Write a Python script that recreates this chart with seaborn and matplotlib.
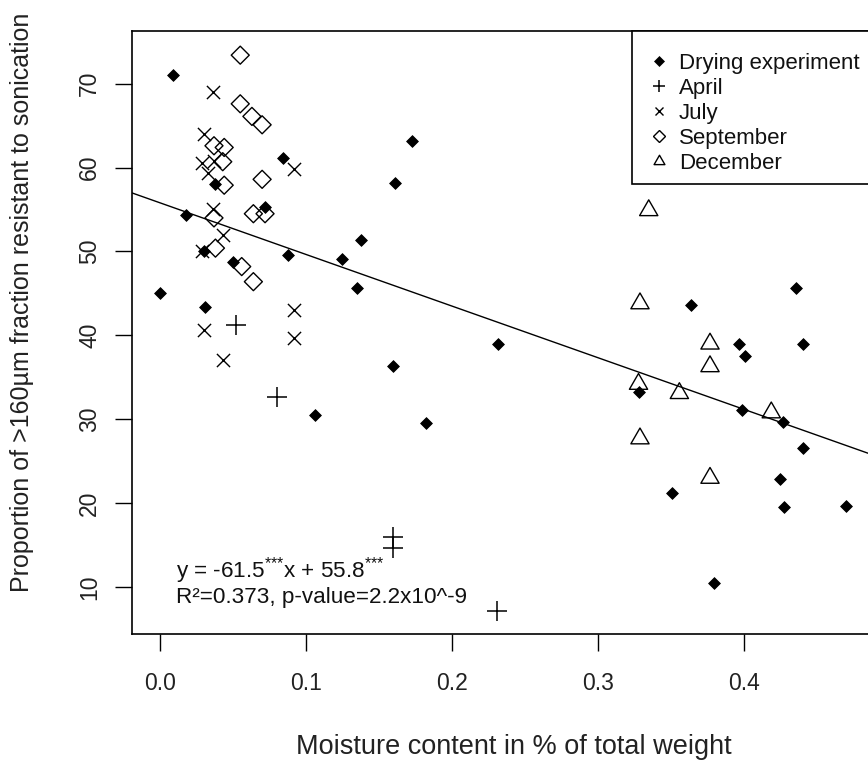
import numpy as np
import pandas as pd
import matplotlib
matplotlib.use("Agg")
import matplotlib.pyplot as plt
from matplotlib.lines import Line2D
from matplotlib.path import Path
from matplotlib.patches import Rectangle
import seaborn as sns

# ---------------- data ----------------
drying_x = [0.009, 0.000, 0.018, 0.084, 0.038, 0.072, 0.030, 0.050, 0.088, 0.125,
            0.031, 0.106, 0.173, 0.161, 0.138, 0.135, 0.232, 0.160, 0.182,
            0.436, 0.364, 0.397, 0.401, 0.441, 0.328, 0.399, 0.427, 0.441,
            0.425, 0.351, 0.428, 0.470, 0.380, 0.440]
drying_y = [71.0, 45.0, 54.4, 61.1, 58.0, 55.3, 50.0, 48.7, 49.6, 49.1,
            43.4, 30.5, 63.2, 58.2, 51.4, 45.7, 39.0, 36.3, 29.5,
            45.7, 43.6, 39.0, 37.5, 39.0, 33.3, 31.1, 29.7, 26.6,
            22.9, 21.2, 19.5, 19.7, 10.5, 63.2]

april_x = [0.052, 0.080, 0.160, 0.160, 0.231]
april_y = [41.2, 32.7, 16.0, 14.7, 7.1]

july_x = [0.036, 0.030, 0.029, 0.033, 0.037, 0.092, 0.036, 0.043, 0.029, 0.092, 0.092, 0.030, 0.043]
july_y = [69.0, 64.0, 60.5, 59.3, 60.8, 59.8, 55.1, 52.0, 50.0, 43.0, 39.7, 40.6, 37.1]

sept_x = [0.055, 0.055, 0.063, 0.070, 0.037, 0.044, 0.043, 0.044, 0.070, 0.064, 0.072,
          0.037, 0.038, 0.056, 0.064]
sept_y = [73.4, 67.6, 66.1, 65.1, 62.6, 62.4, 60.7, 57.9, 58.6, 54.5, 54.5,
          54.0, 50.4, 48.2, 46.4]

dec_x = [0.335, 0.329, 0.377, 0.377, 0.328, 0.356, 0.419, 0.329, 0.377]
dec_y = [54.9, 43.8, 39.0, 36.3, 34.2, 33.1, 30.8, 27.7, 23.0]

slope = -61.5
intercept = 55.8

legend_labels = ["Drying experiment", "April", "July", "September", "December"]
x_ticks = [0.0, 0.1, 0.2, 0.3, 0.4]
y_ticks = [10, 20, 30, 40, 50, 60, 70]

# ---------------- style ----------------
sns.set_style("white")
plt.rcParams["font.family"] = ["Liberation Sans", "DejaVu Sans"]
plt.rcParams["mathtext.fontset"] = "custom"
plt.rcParams["mathtext.rm"] = "Liberation Sans"
plt.rcParams["mathtext.it"] = "Liberation Sans"

W, H = 868, 765
fig = plt.figure(figsize=(W / 100, H / 100), dpi=100)
ax_left, ax_right, ax_top, ax_bottom = 131.7, 868, 31, 634.3
ax = fig.add_axes([ax_left / W, 1 - ax_bottom / H, (ax_right - ax_left) / W, (ax_bottom - ax_top) / H])

df_d = pd.DataFrame({"x": drying_x, "y": drying_y})
df_a = pd.DataFrame({"x": april_x, "y": april_y})
df_j = pd.DataFrame({"x": july_x, "y": july_y})
df_s = pd.DataFrame({"x": sept_x, "y": sept_y})
df_c = pd.DataFrame({"x": dec_x, "y": dec_y})

tri = Path([(-1, -0.577), (1, -0.577), (0, 1.155), (-1, -0.577)],
           [Path.MOVETO, Path.LINETO, Path.LINETO, Path.CLOSEPOLY])

sns.scatterplot(data=df_s, x="x", y="y", marker="D", s=84, color="black", linewidth=1.0, ax=ax, zorder=3)
ax.collections[-1].set_facecolor("none")
ax.collections[-1].set_edgecolor("black")
sns.scatterplot(data=df_c, x="x", y="y", marker=tri, s=230, color="black", linewidth=1.0, ax=ax, zorder=3)
ax.collections[-1].set_facecolor("none")
ax.collections[-1].set_edgecolor("black")
sns.scatterplot(data=df_j, x="x", y="y", marker="x", s=90, color="black", linewidth=1.0, ax=ax, zorder=3)
sns.scatterplot(data=df_a, x="x", y="y", marker="+", s=210, color="black", linewidth=1.1, ax=ax, zorder=3)
sns.scatterplot(data=df_d, x="x", y="y", marker="D", s=36, color="black", edgecolor="black",
                linewidth=0.6, ax=ax, zorder=4)

xlim = (-0.0194, 0.4853)
ylim = (4.37, 76.28)
xx = np.array(xlim)
ax.plot(xx, slope * xx + intercept, color="black", lw=1.0, zorder=2)
ax.set_xlim(*xlim)
ax.set_ylim(*ylim)

ax.set_xticks(x_ticks)
ax.set_xticklabels([f"{t:.1f}" for t in x_ticks])
ax.set_yticks(y_ticks)
ax.set_yticklabels([str(t) for t in y_ticks], rotation=90, va="center")
ax.tick_params(axis="both", direction="out", length=12, width=1, color="black",
               labelsize=16.5, labelcolor="#222222", left=True, bottom=True)
ax.tick_params(axis="x", pad=15)
ax.tick_params(axis="y", pad=10)
ax.set_xlabel("")
ax.set_ylabel("")
for side in ["left", "bottom", "top"]:
    ax.spines[side].set_color("black")
    ax.spines[side].set_linewidth(1.2)
ax.spines["right"].set_visible(False)

# annotation
ax.text(0.0113, 11.1, r"y = -61.5$^{{*}{*}{*}}$x + 55.8$^{{*}{*}{*}}$", fontsize=16.2,
        ha="left", va="baseline", color="#111111")
ax.text(0.0113, 8.07, "R²=0.373, p-value=2.2x10^-9", fontsize=16.2, ha="left", va="baseline", color="#111111")

# legend box (frame drawn separately so rows can sit like R's legend)
box = Rectangle((632 / W, 1 - 184 / H), (W + 10 - 632) / W, (184 - 31) / H, transform=fig.transFigure,
                facecolor="white", edgecolor="black", linewidth=1.2, zorder=5, clip_on=False)
fig.add_artist(box)

handles = [
    Line2D([], [], marker="D", linestyle="none", color="black", markersize=5, markeredgewidth=0.5),
    Line2D([], [], marker="+", linestyle="none", color="black", markersize=9, markeredgewidth=1.1),
    Line2D([], [], marker="x", linestyle="none", color="black", markersize=6, markeredgewidth=1.0),
    Line2D([], [], marker="D", linestyle="none", color="black", markerfacecolor="none", markersize=6, markeredgewidth=1.0),
    Line2D([], [], marker=tri, linestyle="none", color="black", markerfacecolor="none", markersize=9, markeredgewidth=1.0),
]
leg = fig.legend(handles, legend_labels, loc="upper left", bbox_to_anchor=(648 / W, 1 - 53 / H),
                 frameon=False, fontsize=16, borderaxespad=0, borderpad=0,
                 labelspacing=0.175, handlelength=1.0, handletextpad=0.4)
leg.set_zorder(6)
for t in leg.get_texts():
    t.set_color("#111111")

# axis titles
fig.text(514 / W, 1 - 747 / H, "Moisture content in % of total weight", fontsize=19.5,
         ha="center", va="center", color="#222222")
fig.text(22 / W, 1 - 302 / H, "Proportion of >160µm fraction resistant to sonication", fontsize=18,
         ha="center", va="center", rotation=90, color="#222222")

fig.savefig("out.png", dpi=100)
